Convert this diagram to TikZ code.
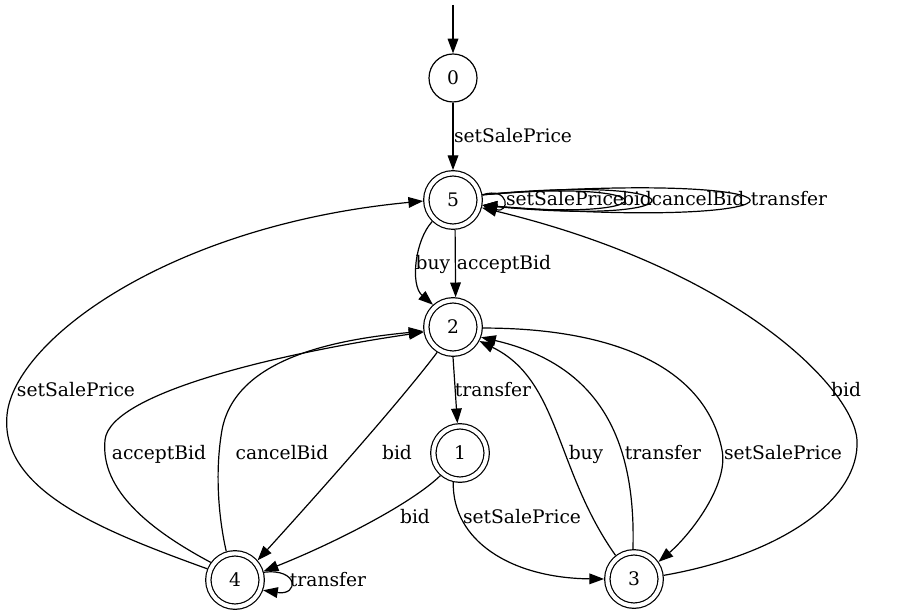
\documentclass[tikz,border=0pt]{standalone}
\usepackage{fontspec}
\setmainfont{DejaVu Serif}
\usetikzlibrary{arrows.meta}
\begin{document}
\begin{tikzpicture}[x=0.75pt,y=-0.75pt,
  every node/.style={font=\fontsize{14}{16}\selectfont},
  st/.style={circle,draw,line width=0.9pt,minimum size=36pt,inner sep=0pt},
  acc/.style={circle,draw,double,double distance=3.1pt,line width=0.9pt,minimum size=40pt,inner sep=0pt,outer sep=2.45pt},
  e/.style={-{Triangle[length=11pt,width=8pt]},line width=0.9pt},
  lbl/.style={inner sep=0pt,text height=11pt,text depth=2pt}]
\useasboundingbox (0,0) rectangle (905,616);

\node[st] (n0) at (453,78) {0};
\node[acc] (n5) at (453,200) {5};
\node[acc] (n2) at (453,327) {2};
\node[acc] (n1) at (460,453) {1};
\node[acc] (n4) at (235,580) {4};
\node[acc] (n3) at (634,579) {3};
\coordinate (s) at (453,5);

\draw[e] (s) -- (n0);
\draw[e] (n0) -- (n5) node[lbl] at (513,137) {setSalePrice};

% self loops on 5
\draw[e] (n5.10) .. controls (510,186) and (510,214) .. (n5.-10) node[lbl] at (565,200) {setSalePrice};
\draw[e] (n5.10) .. controls (670,178) and (670,222) .. (n5.-10) node[lbl] at (637,200) {bid};
\draw[e] (n5.10) .. controls (706,173) and (706,227) .. (n5.-10) node[lbl] at (698,200) {cancelBid};
\draw[e] (n5.10) .. controls (837,167) and (837,233) .. (n5.-10) node[lbl] at (789,200) {transfer};

% 5 -> 2
\draw[e] (n5.226) .. controls (415,240) and (410,285) .. (n2.132) node[lbl] at (433,264) {buy};
\draw[e] (n5.-86) -- (n2.85) node[lbl] at (504,264) {acceptBid};

% 2 -> 1
\draw[e] (n2.-90) -- (n1.95) node[lbl] at (493,390) {transfer};

% 2 -> 4
\draw[e] (n2.-122) .. controls (405,395) and (335,475) .. (n4.41) node[lbl] at (397,453) {bid};

% 1 -> 4, 1 -> 3
\draw[e] (n1.-131) .. controls (410,505) and (330,545) .. (n4.17) node[lbl] at (415,517) {bid};
\draw[e] (n1.-103) .. controls (452,540) and (510,578) .. (n3.180) node[lbl] at (522,517) {setSalePrice};

% 3 -> 2
\draw[e] (n3.128) .. controls (555,470) and (560,380) .. (n2.-28) node[lbl] at (586,453) {buy};
\draw[e] (n3.92) .. controls (636,440) and (600,365) .. (n2.-20) node[lbl] at (663,453) {transfer};

% 2 -> 3
\draw[e] (n2.-2) .. controls (610,328) and (705,365) .. (722,450)
  .. controls (729,485) and (690,535) .. (n3.35) node[lbl] at (783,453) {setSalePrice};

% 3 -> 5
\draw[e] (n3.7) .. controls (780,555) and (860,500) .. (857,440)
  .. controls (854,390) and (740,270) .. (n5.-15) node[lbl] at (846,390) {bid};

% 4 -> 5
\draw[e] (n4.158) .. controls (100,530) and (0,490) .. (7,415)
  .. controls (14,340) and (170,225) .. (n5.182) node[lbl] at (76,390) {setSalePrice};

% 4 -> 2
\draw[e] (n4.144) .. controls (150,530) and (100,490) .. (105,440)
  .. controls (110,390) and (300,350) .. (n2.190) node[lbl] at (159,453) {acceptBid};
\draw[e] (n4.107) .. controls (218,515) and (215,470) .. (222,430)
  .. controls (235,360) and (330,340) .. (n2.188) node[lbl] at (282,453) {cancelBid};

% 4 self loop
\draw[e] (n4.15) .. controls (299,568) and (299,596) .. (n4.-20) node[lbl] at (328,580) {transfer};
\end{tikzpicture}
\end{document}
